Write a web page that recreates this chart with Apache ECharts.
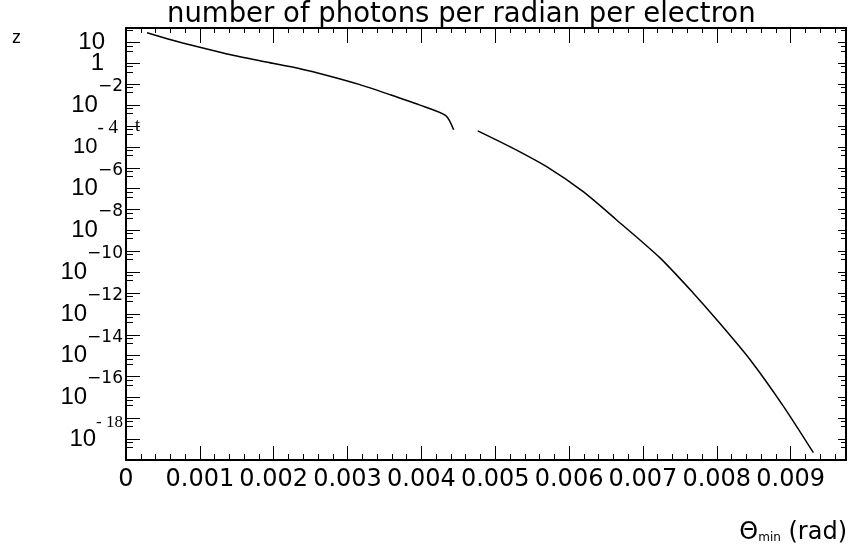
<!DOCTYPE html>
<html>
<head>
<meta charset="utf-8">
<script src="https://cdn.jsdelivr.net/npm/echarts@6/dist/echarts.min.js"></script>
<style>html,body{margin:0;padding:0;background:#fff}#c{width:850px;height:558px}</style>
</head>
<body>
<div id="c"></div>
<script>
// ---- data ----
const titleText = 'number of photons per radian per electron';
const xTickValues = [0, 0.001, 0.002, 0.003, 0.004, 0.005, 0.006, 0.007, 0.008, 0.009];
// first branch of the curve (theta in rad, photons per rad per electron)
const thetaA   = [0.000285, 0.00062, 0.000986, 0.001434, 0.001896, 0.002343, 0.00275, 0.003157, 0.003564, 0.003971, 0.00433, 0.004437];
const photonsA = [29.9, 13.4, 6.18, 2.56, 1.18, 0.578, 0.253, 0.0993, 0.033, 0.0104, 0.00319, 0.00066];
// second branch of the curve
const thetaB   = [0.004763, 0.005237, 0.005691, 0.006187, 0.00664, 0.007228, 0.00768, 0.007997, 0.008449, 0.008901, 0.009308];
const photonsB = [5.91e-4, 8.79e-5, 1.16e-5, 7.36e-7, 3.26e-8, 4.95e-10, 1.01e-11, 5.36e-13, 6.53e-15, 3.8e-17, 2.24e-19];
// y tick labels (exponents that carry a label)
const yLabelExponents = [1, 0, -2, -4, -6, -8, -10, -12, -14, -16, -18];

const pairs = (xs, ys) => xs.map((x, i) => [x, ys[i]]);

const chart = echarts.init(document.getElementById('c'), null, {renderer: 'canvas'});

const sans = 'DejaVu Sans';
const hel = 'Liberation Sans';
const serif = 'Liberation Serif';

function yLabel(v) {
  const n = Math.round(Math.log10(v));
  if (Math.abs(Math.log10(v) - n) > 1e-6) return '';
  if (yLabelExponents.indexOf(n) < 0) return '';
  if (n === 1) return '{p|10}';
  if (n === 0) return '{p1|1}';
  if (n === -4) return '{bs|10}{ss|- 4}';
  if (n === -18) return '{b|10}{ss2|- 18}';
  return '{b|10}{s|\u2212' + (-n) + '}';
}

const option = {
  animation: false,
  backgroundColor: '#fff',
  title: {
    text: titleText,
    left: 167, top: 1, padding: 0,
    textStyle: {fontFamily: sans, fontSize: 27.5, fontWeight: 'normal', color: '#000'}
  },
  grid: {left: 126, right: 4, top: 28, bottom: 98, containLabel: false, outerBoundsMode: 'none'},
  xAxis: [{
    type: 'value', min: 0, max: 0.00975, interval: 0.001, position: 'bottom',
    axisLine: {show: true, onZero: false, lineStyle: {color: '#000', width: 2}},
    axisTick: {show: true, inside: true, length: 14, lineStyle: {color: '#000', width: 1}},
    minorTick: {show: true, splitNumber: 5, length: 6, lineStyle: {color: '#000', width: 1}},
    splitLine: {show: false},
    axisLabel: {
      margin: 8, color: '#000', fontFamily: sans, fontSize: 24,
      formatter: function (v) {
        if (Math.abs(v * 1000 - Math.round(v * 1000)) > 1e-6) return '';
        const k = Math.round(v * 1000);
        return xTickValues.indexOf(k / 1000) < 0 ? '' : (k === 0 ? '0' : (k / 1000).toFixed(3));
      }
    },
    name: '{t|\u0398}{m|min}{t| (rad)}',
    nameLocation: 'end', nameGap: 1,
    nameTextStyle: {
      align: 'right', verticalAlign: 'top', padding: [61, 0, 0, 0],
      rich: {
        t: {fontFamily: sans, fontSize: 24, color: '#000'},
        m: {fontFamily: sans, fontSize: 12, color: '#000', padding: [10, 0, 0, 0]}
      }
    }
  }, {
    type: 'value', min: 0, max: 0.00975, interval: 0.001, position: 'top',
    axisLine: {show: true, onZero: false, lineStyle: {color: '#000', width: 2}},
    axisTick: {show: true, inside: true, length: 15, lineStyle: {color: '#000', width: 1}},
    minorTick: {show: true, splitNumber: 5, length: 5, lineStyle: {color: '#000', width: 1}},
    splitLine: {show: false},
    axisLabel: {show: false}
  }],
  yAxis: [{
    type: 'log', logBase: 10, min: 1e-19, max: 50, interval: 1, splitNumber: 20, position: 'left',
    axisLine: {show: true, onZero: false, lineStyle: {color: '#000', width: 2}},
    axisTick: {show: true, inside: true, length: 14, lineStyle: {color: '#000', width: 1}},
    minorTick: {show: true, splitNumber: 3, length: 7, lineStyle: {color: '#000', width: 1}},
    splitLine: {show: false},
    axisLabel: {
      margin: 3, color: '#000',
      formatter: yLabel,
      rich: {
        p: {fontFamily: hel, fontSize: 24, color: '#000', padding: [0, 18, 0, 0]},
        p1: {fontFamily: hel, fontSize: 24, color: '#000', padding: [0, 19, 0, 0]},
        b: {fontFamily: hel, fontSize: 24, color: '#000'},
        s: {fontFamily: sans, fontSize: 17, color: '#000', padding: [0, 0, 37, 0]},
        bs: {fontFamily: hel, fontSize: 22, color: '#000'},
        ss: {fontFamily: serif, fontSize: 19, color: '#000', padding: [0, 5, 37, 0]},
        ss2: {fontFamily: serif, fontSize: 17, color: '#000', padding: [0, 0, 34, 0]}
      }
    }
  }, {
    type: 'log', logBase: 10, min: 1e-19, max: 50, interval: 1, splitNumber: 20, position: 'right',
    axisLine: {show: true, onZero: false, lineStyle: {color: '#000', width: 2}},
    axisTick: {show: true, inside: true, length: 8, lineStyle: {color: '#000', width: 1}},
    minorTick: {show: true, splitNumber: 3, length: 5, lineStyle: {color: '#000', width: 1}},
    splitLine: {show: false},
    axisLabel: {show: false}
  }],
  graphic: [
    {type: 'text', left: 12, top: 29, style: {text: 'z', font: '18px "Liberation Sans"', fill: '#000'}},
    {type: 'text', left: 135, top: 117, style: {text: 't', font: '18px "Liberation Serif"', fill: '#000'}}
  ],
  series: [{
    type: 'line', xAxisIndex: 0, yAxisIndex: 0, data: pairs(thetaA, photonsA),
    showSymbol: false, smooth: 0.25, lineStyle: {color: '#000', width: 1.5}
  }, {
    type: 'line', xAxisIndex: 0, yAxisIndex: 0, data: pairs(thetaB, photonsB),
    showSymbol: false, smooth: 0.25, lineStyle: {color: '#000', width: 1.5}
  }]
};
chart.setOption(option);
</script>
</body>
</html>
